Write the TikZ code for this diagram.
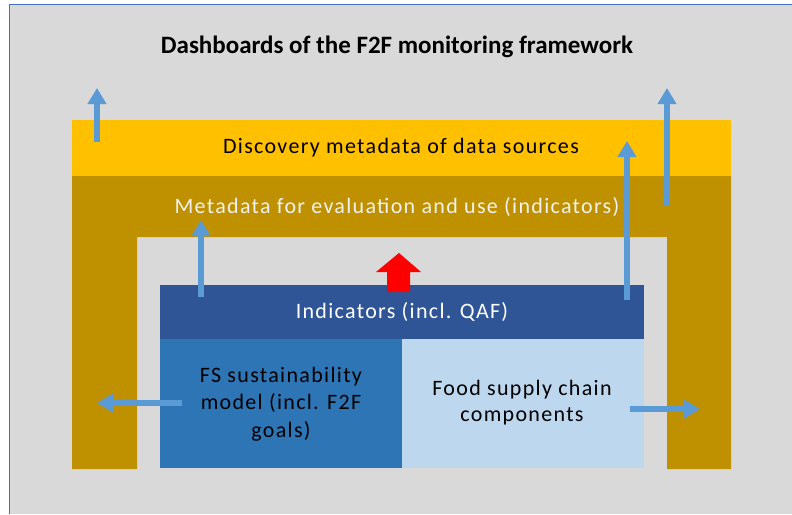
\documentclass[tikz,border=0pt]{standalone}
\usepackage{fontspec}
\setmainfont{Carlito}
\newfontfamily\spacedfont[LetterSpace=6]{Carlito}
\usetikzlibrary{arrows.meta}
\definecolor{bggray}{HTML}{D9D9D9}
\definecolor{frameblue}{HTML}{4472C4}
\definecolor{discyellow}{HTML}{FFC000}
\definecolor{metagold}{HTML}{BF9000}
\definecolor{inddark}{HTML}{2F5597}
\definecolor{fsblue}{HTML}{2E75B6}
\definecolor{foodlight}{HTML}{BDD7EE}
\definecolor{arrowblue}{HTML}{5B9BD5}
\definecolor{metatext}{HTML}{F2F2F2}
\tikzset{
  box/.style={inner sep=0pt, outer sep=0pt, draw=none, anchor=north west},
  lbl/.style={inner sep=0pt, align=center, font=\spacedfont\fontsize{22}{26}\selectfont},
  bluearrow/.style={draw=arrowblue, line width=6pt, -{Triangle[width=18pt,length=16pt]}},
}
\begin{document}
\begin{tikzpicture}[x=1pt,y=-1pt]
\useasboundingbox (0,0) rectangle (792,514);
\fill[white] (0,0) rectangle (792,514);
\fill[bggray] (10,5) rectangle (792,514);
\draw[frameblue, line width=1.2pt] (9.5,514) -- (9.5,4.5) -- (792,4.5);
% title
\node[inner sep=0pt, font=\bfseries\fontsize{25}{30}\selectfont] (title) at (397,47) {Dashboards of the F2F monitoring framework};
% gold U shape
\fill[metagold] (72,176) -- (731,176) -- (731,469) -- (667,469) -- (667,237) -- (137,237) -- (137,469) -- (72,469) -- cycle;
\node[box, fill=discyellow, minimum width=659pt, minimum height=56pt] (disc) at (72,120) {};
\node[lbl] (disctext) at (401,148) {Discovery metadata of data sources};
\node[lbl, text=metatext] (meta) at (397,207) {Metadata for evaluation and use (indicators)};
% inner boxes
\node[box, fill=inddark, minimum width=484pt, minimum height=54pt] (ind) at (160,285) {};
\node[lbl, text=white] (indtext) at (402,312) {Indicators (incl. QAF)};
\node[box, fill=fsblue, minimum width=242pt, minimum height=129pt] (fs) at (160,339) {};
\node[lbl, font=\spacedfont\fontsize{22}{27.5}\selectfont] (fstext) at (281,404) {FS sustainability\\model (incl. F2F\\goals)};
\node[box, fill=foodlight, minimum width=242pt, minimum height=129pt] (food) at (402,339) {};
\node[lbl] (foodtext) at (522,403) {Food supply chain\\components};
% red block arrow
\fill[red] (399,253) -- (421,272) -- (410,272) -- (410,292) -- (387,292) -- (387,272) -- (376,272) -- cycle;
% blue arrows
\coordinate (a1s) at (97,142); \coordinate (a1e) at (97,88);
\coordinate (a2s) at (667,206); \coordinate (a2e) at (667,88);
\coordinate (a3s) at (627,300); \coordinate (a3e) at (627,141);
\coordinate (a4s) at (201,297); \coordinate (a4e) at (201,220);
\coordinate (a5s) at (182,403); \coordinate (a5e) at (97,403);
\coordinate (a6s) at (630,409); \coordinate (a6e) at (700,409);
\draw[bluearrow] (a1s) -- (a1e);
\draw[bluearrow] (a2s) -- (a2e);
\draw[bluearrow] (a3s) -- (a3e);
\draw[bluearrow] (a4s) -- (a4e);
\draw[bluearrow] (a5s) -- (a5e);
\draw[bluearrow] (a6s) -- (a6e);
\end{tikzpicture}
\end{document}
